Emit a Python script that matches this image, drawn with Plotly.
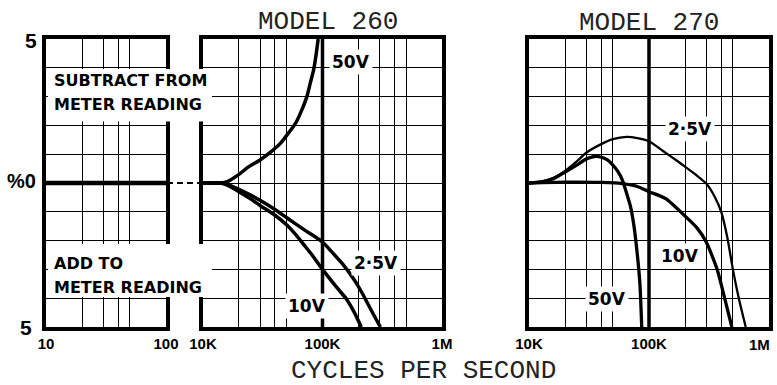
import plotly.graph_objects as go

W, H = 777, 385

# ---------------- data ----------------
# left panel (10 Hz - 100 Hz): all ranges read 0 %
low_freq_hz = [10, 100]
low_freq_pct = [0, 0]

# MODEL 260
m260_50v_hz = [10000, 14000, 16000, 20000, 24000, 30000, 37000, 45000, 52000, 60000, 67000, 74000, 79000, 84000, 88000, 92000]
m260_50v_pct = [0, 0, 0.05, 0.3, 0.56, 0.8, 1.08, 1.4, 1.74, 2.1, 2.53, 3.0, 3.47, 3.9, 4.4, 5.0]

m260_25v_hz = [10000, 14000, 16000, 20000, 25000, 30000, 40000, 52000, 70000, 100000, 120000, 150000, 180000, 210000, 240000, 270000, 305000]
m260_25v_pct = [0, 0, -0.05, -0.22, -0.42, -0.6, -0.92, -1.25, -1.62, -2.05, -2.4, -2.85, -3.3, -3.75, -4.2, -4.6, -5.0]

m260_10v_hz = [10000, 14000, 16000, 20000, 25000, 30000, 40000, 50000, 60000, 70000, 80000, 100000, 130000, 160000, 185000, 211000]
m260_10v_pct = [0, 0, -0.07, -0.3, -0.55, -0.78, -1.12, -1.45, -1.8, -2.15, -2.45, -3.0, -3.6, -4.05, -4.5, -5.0]

# MODEL 270
m270_25v_hz = [10000, 13000, 16000, 20000, 25000, 30000, 40000, 50000, 65000, 80000, 100000, 130000, 170000, 210000, 250000, 300000, 350000, 400000, 450000, 500000, 560000, 640000]
m270_25v_pct = [0, 0.06, 0.18, 0.42, 0.75, 1.05, 1.35, 1.52, 1.6, 1.56, 1.45, 1.12, 0.78, 0.5, 0.26, -0.02, -0.45, -1.0, -1.9, -3.0, -4.0, -5.0]

m270_10v_hz = [10000, 20000, 40000, 60000, 80000, 100000, 139000, 200000, 250000, 300000, 370000, 430000, 490000]
m270_10v_pct = [0, 0.03, 0.02, -0.02, -0.12, -0.3, -0.55, -1.15, -1.55, -2.05, -3.0, -4.05, -5.0]

m270_50v_hz = [10000, 13000, 16000, 20000, 25000, 30000, 35000, 40000, 45000, 50000, 55000, 60000, 65000, 70000, 75000, 80000, 84000, 87000]
m270_50v_pct = [0, 0.05, 0.15, 0.38, 0.62, 0.83, 0.92, 0.9, 0.8, 0.62, 0.4, 0.1, -0.35, -0.8, -1.5, -2.5, -3.5, -5.0]

# gridline / tick positions
left_ticks = [10, 20, 30, 40, 50, 100]
left_labels = ["10", "", "", "", "", "100"]
hi_ticks = [1e4, 2e4, 3e4, 4e4, 5e4, 1e5, 2e5, 3e5, 4e5, 5e5, 1e6]
hi_labels = ["10K", "", "", "", "", "100K", "", "", "", "", "1M"]
hi_labels_edge = ["10K", "", "", "", "", "100K", "", "", "", "", ""]
edge_label = "1M"
pct_ticks = [-5, -4, -3, -2, -1, 0, 1, 2, 3, 4, 5]

# ---------------- figure ----------------
def px(p):
    return p / W


def py(p):
    return 1 - p / H


fig = go.Figure()

def line(x, y, ax, width):
    fig.add_trace(go.Scatter(x=x, y=y, mode="lines", xaxis=ax[0], yaxis=ax[1],
                             line=dict(color="black", width=width, shape="spline", smoothing=0.6),
                             showlegend=False, hoverinfo="skip"))

line(low_freq_hz, low_freq_pct, ("x", "y"), 4.5)
# emphasised 100K lines
line([1e5, 1e5], [-5, 5], ("x2", "y2"), 3.5)
line([1e5, 1e5], [-5, 5], ("x3", "y3"), 3.5)

line(m260_50v_hz, m260_50v_pct, ("x2", "y2"), 3.5)
line(m260_25v_hz, m260_25v_pct, ("x2", "y2"), 3.5)
line(m260_10v_hz, m260_10v_pct, ("x2", "y2"), 3.5)

line(m270_25v_hz, m270_25v_pct, ("x3", "y3"), 2.3)
line(m270_10v_hz, m270_10v_pct, ("x3", "y3"), 3.3)
line(m270_50v_hz, m270_50v_pct, ("x3", "y3"), 3.3)

tickfont = dict(family="Liberation Sans", size=15, color="black", weight="bold")
ydom = [py(327), py(39)]

def xaxis(dom, rng, tv, tt, anchor):
    return dict(type="log", domain=dom, range=rng, tickvals=tv, ticktext=tt,
                showgrid=True, gridcolor="black", gridwidth=1.3,
                showline=True, linecolor="black", linewidth=3.5, mirror=True,
                zeroline=False, ticks="", ticklabeloverflow="allow",
                tickfont=tickfont, anchor=anchor, fixedrange=True, automargin=False)

def yaxis(anchor):
    return dict(domain=ydom, range=[-5, 5], tickvals=pct_ticks, showticklabels=False,
                showgrid=True, gridcolor="black", gridwidth=1.3,
                showline=True, linecolor="black", linewidth=3.5, mirror=True,
                zeroline=False, anchor=anchor, fixedrange=True, automargin=False)

fig.update_layout(
    template="none",
    width=W, height=H, autosize=False,
    margin=dict(l=0, r=0, t=0, b=0, pad=0),
    paper_bgcolor="white", plot_bgcolor="white",
    showlegend=False,
    xaxis=xaxis([px(46), px(166)], [1, 2], left_ticks, left_labels, "y"),
    xaxis2=xaxis([px(203), px(442)], [4, 6], hi_ticks, hi_labels, "y2"),
    xaxis3=xaxis([px(529), px(769)], [4, 6], hi_ticks, hi_labels_edge, "y3"),
    yaxis=yaxis("x"),
    yaxis2=yaxis("x2"),
    yaxis3=yaxis("x3"),
)

# "1M" at the right edge of MODEL 270, kept inside the page
fig.add_annotation(text=edge_label, xref="paper", yref="paper", x=px(772), y=py(344),
                   xanchor="right", yanchor="middle", showarrow=False, font=tickfont)

# white boxes for the notes
for y0, y1 in [(69, 121.5), (244, 297)]:
    fig.add_shape(type="rect", xref="paper", yref="paper",
                  x0=px(48), x1=px(212), y0=py(y1), y1=py(y0),
                  fillcolor="white", line=dict(width=0), layer="above")

# dashed connection between panels at 0 %
fig.add_shape(type="line", xref="paper", yref="paper",
              x0=px(167), x1=px(202), y0=py(183), y1=py(183),
              line=dict(color="black", width=2, dash="6px,4px"), layer="above")

note_font = dict(family="DejaVu Sans", size=16, color="black", weight="bold")
for txt, yy in [("SUBTRACT FROM", 80), ("METER READING", 105), ("ADD TO", 263), ("METER READING", 287)]:
    fig.add_annotation(text=txt, xref="paper", yref="paper", x=px(52), y=py(yy),
                       xanchor="left", yanchor="middle", showarrow=False, font=note_font)

lab_font = dict(family="DejaVu Sans", size=17, color="black", weight="bold")
for txt, xx, yy in [("50V", 351, 62), ("2·5V", 376, 263), ("10V", 307, 306),
                    ("2·5V", 690, 129), ("10V", 680, 256), ("50V", 607, 299)]:
    fig.add_annotation(text=txt, xref="paper", yref="paper", x=px(xx), y=py(yy),
                       xanchor="center", yanchor="middle", showarrow=False,
                       font=lab_font, bgcolor="white", borderpad=2)

type_font = dict(family="Liberation Mono", size=26, color="#222")
fig.add_annotation(text="MODEL 260", xref="paper", yref="paper", x=px(328), y=py(22),
                   xanchor="center", yanchor="middle", showarrow=False, font=type_font)
fig.add_annotation(text="MODEL 270", xref="paper", yref="paper", x=px(649), y=py(23),
                   xanchor="center", yanchor="middle", showarrow=False, font=type_font)
fig.add_annotation(text="CYCLES PER SECOND", xref="paper", yref="paper", x=px(424), y=py(371),
                   xanchor="center", yanchor="middle", showarrow=False, font=type_font)

yl_font = dict(family="Liberation Sans", size=21, color="black", weight="bold")
fig.add_annotation(text="5", xref="paper", yref="paper", x=px(39), y=py(40),
                   xanchor="right", yanchor="middle", showarrow=False, font=yl_font)
fig.add_annotation(text="%0", xref="paper", yref="paper", x=px(38), y=py(181),
                   xanchor="right", yanchor="middle", showarrow=False,
                   font=dict(family="Liberation Sans", size=20, color="black", weight="bold"))
fig.add_annotation(text="5", xref="paper", yref="paper", x=px(34), y=py(327),
                   xanchor="right", yanchor="middle", showarrow=False, font=yl_font)

# the page's default 8px body margin would push the 777x385 figure out of the window
fig.write_html("out.html", config={"displayModeBar": False},
               post_script="document.body.style.margin='0px';document.body.style.overflow='hidden';")
